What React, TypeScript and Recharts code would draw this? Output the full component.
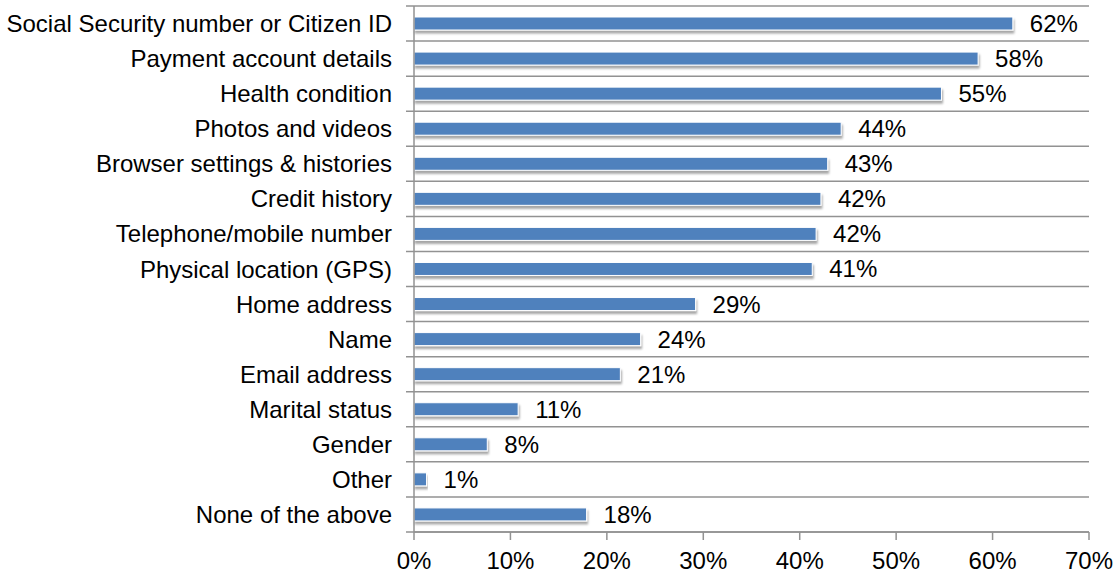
import { BarChart, Bar, XAxis, YAxis, CartesianGrid, LabelList } from "recharts";

const categories = [
  "Social Security number or Citizen ID",
  "Payment account details",
  "Health condition",
  "Photos and videos",
  "Browser settings & histories",
  "Credit history",
  "Telephone/mobile number",
  "Physical location (GPS)",
  "Home address",
  "Name",
  "Email address",
  "Marital status",
  "Gender",
  "Other",
  "None of the above",
];

// bar lengths (percent)
const shares = [62.1, 58.5, 54.7, 44.3, 42.9, 42.2, 41.7, 41.3, 29.2, 23.5, 21.4, 10.8, 7.6, 1.3, 17.9];

// percentages printed next to the bars
const printed = [62, 58, 55, 44, 43, 42, 42, 41, 29, 24, 21, 11, 8, 1, 18];

const xTicks = [0, 10, 20, 30, 40, 50, 60, 70];

const data = categories.map((name, i) => ({
  name,
  share: shares[i],
  label: `${printed[i]}%`,
}));

const GRID = "#929292";
const FONT = "'Liberation Sans', Arial, Helvetica, sans-serif";

function ShadowBar(props: any) {
  const { x, y, width, height } = props;
  if (width <= 0) return null;
  return (
    <rect
      x={x}
      y={y}
      width={width}
      height={height}
      fill="#4F81BD"
      stroke="#ffffff"
      strokeWidth={1}
      filter="url(#barShadow)"
    />
  );
}

export default function App() {
  const n = categories.length;

  return (
    <div style={{ position: "absolute", left: 0, top: 0, fontFamily: FONT }}>
      <BarChart
        width={1118}
        height={573}
        data={data}
        layout="vertical"
        margin={{ top: 6, right: 29, bottom: 0, left: 0 }}
        barSize={13}
      >
        <defs>
          <filter id="barShadow" x="-5%" y="-50%" width="110%" height="220%">
            <feDropShadow dx="1" dy="3" stdDeviation="1.3" floodColor="#000" floodOpacity="0.35" />
          </filter>
        </defs>
        <CartesianGrid
          vertical={false}
          horizontalCoordinatesGenerator={({ offset }: any) =>
            Array.from({ length: n + 1 }, (_, i) => offset.top + (i * offset.height) / n)
          }
          horizontal={(p: any) => (
            <line
              key={p.key ?? `${p.y1}`}
              x1={p.x1 - 8}
              x2={p.x2}
              y1={p.y1}
              y2={p.y2}
              stroke={GRID}
              strokeWidth={1.5}
            />
          )}
        />
        <XAxis
          type="number"
          domain={[0, 70]}
          ticks={xTicks}
          tickFormatter={(v) => `${v}%`}
          height={41}
          tickSize={8}
          tickMargin={12}
          axisLine={{ stroke: GRID, strokeWidth: 1.5 }}
          tickLine={{ stroke: GRID, strokeWidth: 1.5 }}
          tick={{ fontSize: 24, fill: "#000", fontFamily: FONT }}
        />
        <YAxis
          type="category"
          dataKey="name"
          width={414}
          tickSize={0}
          tickMargin={22}
          tickLine={false}
          interval={0}
          axisLine={{ stroke: GRID, strokeWidth: 1.5 }}
          tick={{ fontSize: 24, fill: "#000", fontFamily: FONT }}
        />
        <Bar dataKey="share" isAnimationActive={false} shape={ShadowBar}>
          <LabelList
            dataKey="label"
            position="right"
            offset={17}
            style={{ fontSize: 24, fill: "#000", fontFamily: FONT }}
          />
        </Bar>
      </BarChart>
    </div>
  );
}
